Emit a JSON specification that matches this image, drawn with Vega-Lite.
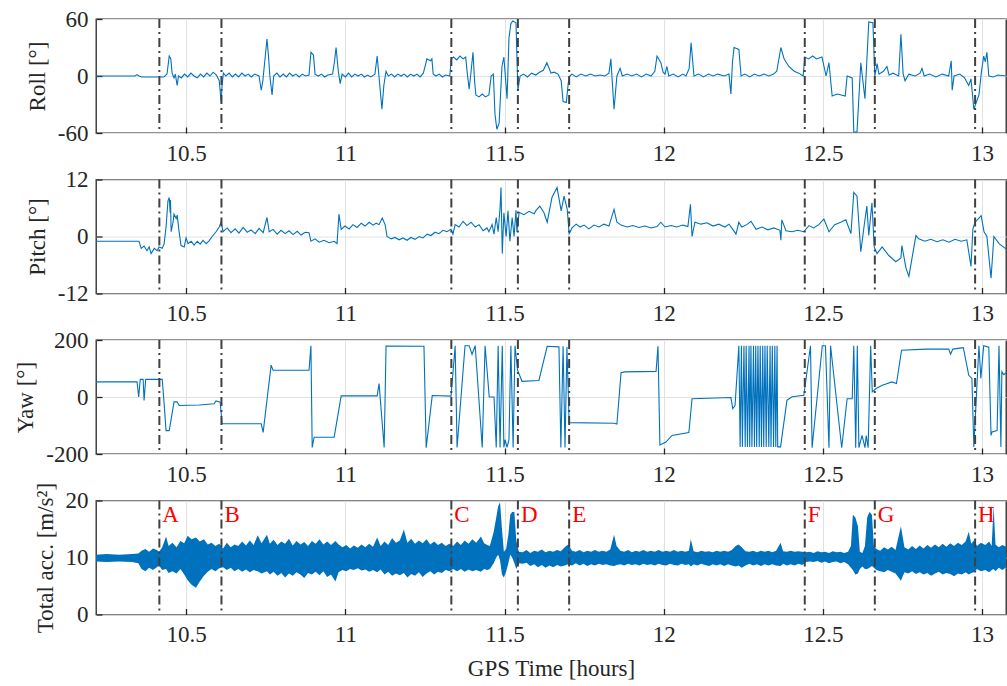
{
"$schema": "https://vega.github.io/schema/vega-lite/v6.json",
"background": "white",
"padding": {"left": 14, "top": 7, "right": 0, "bottom": 0},
"bounds": "flush",
"spacing": 46.5,
"config": {
  "font": "Liberation Serif, Times New Roman, serif",
  "view": {"stroke": "#262626", "strokeWidth": 1.3},
  "axis": {"labelFont": "Liberation Serif, Times New Roman, serif", "titleFont": "Liberation Serif, Times New Roman, serif", "labelFontSize": 23, "titleFontSize": 23, "labelColor": "#262626", "titleColor": "#262626", "titleFontWeight": "normal", "domain": false, "tickColor": "#262626", "tickWidth": 1.3, "gridColor": "#e2e2e2", "gridWidth": 1, "labelFlush": false, "labelOverlap": false},
  "axisX": {"tickSize": -6, "labelPadding": 15},
  "axisY": {"tickSize": -6, "labelPadding": 14, "titlePadding": 8}
},
"datasets": {
  "events": [
    {"t": 10.416, "label": "A"}, {"t": 10.611, "label": "B"}, {"t": 11.333, "label": "C"}, {"t": 11.542, "label": "D"},
    {"t": 11.703, "label": "E"}, {"t": 12.443, "label": "F"}, {"t": 12.663, "label": "G"}, {"t": 12.978, "label": "H"}
  ],
  "roll": [
    {"t":10.217,"v":0},{"t":10.340,"v":0},{"t":10.346,"v":1.5},{"t":10.352,"v":0},{"t":10.360,"v":-1},{"t":10.430,"v":-1},{"t":10.440,"v":2},{"t":10.447,"v":21},{"t":10.452,"v":18},{"t":10.456,"v":3},{"t":10.462,"v":-2},{"t":10.466,"v":2},{"t":10.472,"v":-10},{"t":10.476,"v":0},{"t":10.485,"v":-2},{"t":10.495,"v":2},{"t":10.505,"v":-1},{"t":10.515,"v":3},{"t":10.525,"v":0},{"t":10.535,"v":-2},{"t":10.545,"v":2},{"t":10.555,"v":-1},{"t":10.565,"v":3},{"t":10.575,"v":0},{"t":10.585,"v":4},{"t":10.595,"v":1},{"t":10.604,"v":-5},{"t":10.610,"v":-27},{"t":10.613,"v":-10},{"t":10.617,"v":3},{"t":10.625,"v":0},{"t":10.635,"v":3},{"t":10.645,"v":-1},{"t":10.655,"v":2},{"t":10.665,"v":-1},{"t":10.675,"v":3},{"t":10.685,"v":0},{"t":10.695,"v":2},{"t":10.705,"v":-1},{"t":10.715,"v":2},{"t":10.729,"v":0},{"t":10.736,"v":-15},{"t":10.741,"v":-5},{"t":10.754,"v":39},{"t":10.759,"v":20},{"t":10.763,"v":0},{"t":10.770,"v":-20},{"t":10.775,"v":0},{"t":10.785,"v":3},{"t":10.795,"v":-1},{"t":10.805,"v":2},{"t":10.815,"v":-1},{"t":10.825,"v":3},{"t":10.835,"v":0},{"t":10.845,"v":2},{"t":10.855,"v":-1},{"t":10.865,"v":2},{"t":10.875,"v":0},{"t":10.886,"v":1},{"t":10.892,"v":25},{"t":10.900,"v":22},{"t":10.905,"v":2},{"t":10.915,"v":0},{"t":10.925,"v":2},{"t":10.935,"v":-1},{"t":10.945,"v":1},{"t":10.960,"v":2},{"t":10.966,"v":15},{"t":10.971,"v":30},{"t":10.978,"v":5},{"t":10.984,"v":-8},{"t":10.990,"v":2},{"t":11.000,"v":-1},{"t":11.010,"v":3},{"t":11.020,"v":-1},{"t":11.030,"v":2},{"t":11.040,"v":0},{"t":11.050,"v":2},{"t":11.060,"v":-1},{"t":11.070,"v":1},{"t":11.080,"v":-1},{"t":11.093,"v":2},{"t":11.100,"v":21},{"t":11.107,"v":-5},{"t":11.115,"v":-35},{"t":11.121,"v":-10},{"t":11.128,"v":5},{"t":11.135,"v":0},{"t":11.145,"v":2},{"t":11.155,"v":-1},{"t":11.165,"v":2},{"t":11.175,"v":0},{"t":11.185,"v":2},{"t":11.195,"v":-1},{"t":11.205,"v":2},{"t":11.215,"v":0},{"t":11.225,"v":2},{"t":11.235,"v":-1},{"t":11.245,"v":3},{"t":11.252,"v":12},{"t":11.256,"v":18},{"t":11.268,"v":16},{"t":11.272,"v":18},{"t":11.276,"v":2},{"t":11.285,"v":0},{"t":11.295,"v":2},{"t":11.305,"v":-1},{"t":11.315,"v":1},{"t":11.328,"v":0},{"t":11.333,"v":18},{"t":11.340,"v":20},{"t":11.350,"v":17},{"t":11.360,"v":21},{"t":11.370,"v":18},{"t":11.378,"v":20},{"t":11.383,"v":3},{"t":11.389,"v":-14},{"t":11.395,"v":5},{"t":11.401,"v":25},{"t":11.406,"v":-5},{"t":11.410,"v":-20},{"t":11.420,"v":-22},{"t":11.430,"v":-19},{"t":11.440,"v":-22},{"t":11.451,"v":-20},{"t":11.458,"v":0},{"t":11.465,"v":2},{"t":11.470,"v":-40},{"t":11.476,"v":-56},{"t":11.483,"v":-50},{"t":11.492,"v":10},{"t":11.498,"v":20},{"t":11.508,"v":-24},{"t":11.514,"v":40},{"t":11.520,"v":55},{"t":11.526,"v":58},{"t":11.536,"v":56},{"t":11.542,"v":-15},{"t":11.549,"v":0},{"t":11.560,"v":2},{"t":11.572,"v":-1},{"t":11.585,"v":3},{"t":11.598,"v":1},{"t":11.610,"v":4},{"t":11.622,"v":6},{"t":11.633,"v":14},{"t":11.646,"v":3},{"t":11.656,"v":4},{"t":11.668,"v":2},{"t":11.678,"v":-5},{"t":11.684,"v":-27},{"t":11.694,"v":-28},{"t":11.700,"v":-8},{"t":11.705,"v":0},{"t":11.712,"v":2},{"t":11.725,"v":-1},{"t":11.740,"v":2},{"t":11.755,"v":0},{"t":11.770,"v":2},{"t":11.785,"v":0},{"t":11.800,"v":1},{"t":11.815,"v":0},{"t":11.828,"v":3},{"t":11.834,"v":18},{"t":11.844,"v":-35},{"t":11.853,"v":0},{"t":11.863,"v":8},{"t":11.870,"v":0},{"t":11.885,"v":2},{"t":11.900,"v":0},{"t":11.915,"v":2},{"t":11.930,"v":-1},{"t":11.945,"v":2},{"t":11.960,"v":0},{"t":11.972,"v":5},{"t":11.979,"v":21},{"t":11.991,"v":14},{"t":11.998,"v":4},{"t":12.004,"v":2},{"t":12.010,"v":10},{"t":12.016,"v":0},{"t":12.030,"v":2},{"t":12.045,"v":-1},{"t":12.060,"v":2},{"t":12.070,"v":0},{"t":12.080,"v":8},{"t":12.086,"v":35},{"t":12.095,"v":0},{"t":12.110,"v":2},{"t":12.125,"v":-1},{"t":12.140,"v":2},{"t":12.155,"v":0},{"t":12.170,"v":2},{"t":12.190,"v":0},{"t":12.205,"v":2},{"t":12.211,"v":-19},{"t":12.216,"v":15},{"t":12.221,"v":30},{"t":12.236,"v":28},{"t":12.243,"v":0},{"t":12.255,"v":2},{"t":12.270,"v":-1},{"t":12.285,"v":2},{"t":12.300,"v":0},{"t":12.315,"v":2},{"t":12.330,"v":0},{"t":12.345,"v":2},{"t":12.355,"v":5},{"t":12.368,"v":30},{"t":12.378,"v":18},{"t":12.393,"v":10},{"t":12.410,"v":5},{"t":12.424,"v":3},{"t":12.438,"v":0},{"t":12.443,"v":20},{"t":12.455,"v":18},{"t":12.468,"v":21},{"t":12.480,"v":18},{"t":12.497,"v":20},{"t":12.510,"v":0},{"t":12.519,"v":14},{"t":12.529,"v":-21},{"t":12.545,"v":-19},{"t":12.570,"v":-21},{"t":12.576,"v":0},{"t":12.592,"v":-2},{"t":12.597,"v":-59},{"t":12.607,"v":-59},{"t":12.619,"v":14},{"t":12.632,"v":-24},{"t":12.644,"v":57},{"t":12.657,"v":56},{"t":12.663,"v":0},{"t":12.666,"v":5},{"t":12.670,"v":13},{"t":12.676,"v":2},{"t":12.690,"v":5},{"t":12.701,"v":10},{"t":12.708,"v":1},{"t":12.720,"v":3},{"t":12.738,"v":0},{"t":12.745,"v":44},{"t":12.752,"v":2},{"t":12.758,"v":-5},{"t":12.770,"v":2},{"t":12.790,"v":0},{"t":12.805,"v":3},{"t":12.811,"v":8},{"t":12.818,"v":0},{"t":12.835,"v":2},{"t":12.855,"v":-1},{"t":12.875,"v":2},{"t":12.895,"v":0},{"t":12.903,"v":16},{"t":12.906,"v":-15},{"t":12.912,"v":0},{"t":12.930,"v":2},{"t":12.945,"v":-2},{"t":12.958,"v":-10},{"t":12.965,"v":-3},{"t":12.974,"v":-35},{"t":12.990,"v":-20},{"t":12.998,"v":5},{"t":13.005,"v":21},{"t":13.010,"v":15},{"t":13.015,"v":25},{"t":13.021,"v":0},{"t":13.035,"v":-1},{"t":13.050,"v":1},{"t":13.075,"v":0}
  ],
  "pitch": [
    {"t":10.217,"v":-1},{"t":10.352,"v":-1},{"t":10.359,"v":-2.5},{"t":10.368,"v":-2},{"t":10.377,"v":-3},{"t":10.384,"v":-2.2},{"t":10.390,"v":-3.6},{"t":10.400,"v":-2.5},{"t":10.409,"v":-3},{"t":10.415,"v":-2.2},{"t":10.425,"v":-2.5},{"t":10.431,"v":-1.5},{"t":10.437,"v":2},{"t":10.443,"v":7.5},{"t":10.447,"v":8.2},{"t":10.450,"v":5},{"t":10.451,"v":7.7},{"t":10.453,"v":1},{"t":10.459,"v":3},{"t":10.462,"v":4.7},{"t":10.469,"v":3.8},{"t":10.472,"v":4.5},{"t":10.478,"v":1},{"t":10.484,"v":-1.9},{"t":10.494,"v":-2.2},{"t":10.500,"v":-0.3},{"t":10.506,"v":-1.5},{"t":10.516,"v":-1.0},{"t":10.525,"v":-1.8},{"t":10.535,"v":-1.0},{"t":10.544,"v":-1.6},{"t":10.553,"v":-0.8},{"t":10.563,"v":-1.5},{"t":10.572,"v":-0.9},{"t":10.582,"v":0},{"t":10.594,"v":1},{"t":10.604,"v":2},{"t":10.610,"v":3},{"t":10.616,"v":1},{"t":10.629,"v":1.8},{"t":10.641,"v":0.8},{"t":10.654,"v":1.6},{"t":10.666,"v":0.7},{"t":10.679,"v":1.9},{"t":10.692,"v":0.9},{"t":10.704,"v":1.4},{"t":10.717,"v":0.6},{"t":10.729,"v":1.7},{"t":10.742,"v":0.8},{"t":10.754,"v":4},{"t":10.761,"v":1},{"t":10.773,"v":1.5},{"t":10.786,"v":0.5},{"t":10.798,"v":1.3},{"t":10.811,"v":0.6},{"t":10.823,"v":1.2},{"t":10.836,"v":0.4},{"t":10.849,"v":1.1},{"t":10.861,"v":0.3},{"t":10.874,"v":0.9},{"t":10.886,"v":0.8},{"t":10.892,"v":-1},{"t":10.905,"v":-0.5},{"t":10.918,"v":-1.2},{"t":10.933,"v":-0.8},{"t":10.949,"v":-1.3},{"t":10.965,"v":-1.0},{"t":10.974,"v":-1.5},{"t":10.980,"v":4.7},{"t":10.987,"v":1.5},{"t":10.999,"v":2.2},{"t":11.012,"v":1.6},{"t":11.024,"v":2.5},{"t":11.037,"v":1.9},{"t":11.050,"v":2.8},{"t":11.062,"v":2.2},{"t":11.075,"v":3.0},{"t":11.087,"v":2.4},{"t":11.097,"v":2.8},{"t":11.106,"v":2.5},{"t":11.116,"v":3.9},{"t":11.125,"v":2.5},{"t":11.131,"v":0},{"t":11.144,"v":-0.5},{"t":11.156,"v":-0.2},{"t":11.169,"v":-0.7},{"t":11.181,"v":-0.3},{"t":11.194,"v":-0.8},{"t":11.206,"v":-0.2},{"t":11.219,"v":-0.6},{"t":11.232,"v":0},{"t":11.244,"v":-0.3},{"t":11.257,"v":0.5},{"t":11.269,"v":0.2},{"t":11.282,"v":0.9},{"t":11.294,"v":0.6},{"t":11.307,"v":1.3},{"t":11.319,"v":1.0},{"t":11.332,"v":1.5},{"t":11.338,"v":0.5},{"t":11.345,"v":2.5},{"t":11.357,"v":2.0},{"t":11.370,"v":3.2},{"t":11.382,"v":2.3},{"t":11.395,"v":3.0},{"t":11.408,"v":2.0},{"t":11.420,"v":2.5},{"t":11.433,"v":1.2},{"t":11.445,"v":1.8},{"t":11.451,"v":1.0},{"t":11.461,"v":2.5},{"t":11.467,"v":0.5},{"t":11.474,"v":4},{"t":11.480,"v":1},{"t":11.486,"v":6},{"t":11.489,"v":10.3},{"t":11.493,"v":-3.6},{"t":11.498,"v":5},{"t":11.505,"v":0},{"t":11.511,"v":5.4},{"t":11.517,"v":-1},{"t":11.524,"v":4},{"t":11.530,"v":0},{"t":11.536,"v":5.5},{"t":11.539,"v":1},{"t":11.546,"v":5.1},{"t":11.561,"v":4.6},{"t":11.577,"v":5.3},{"t":11.593,"v":4.8},{"t":11.599,"v":5.5},{"t":11.611,"v":6.4},{"t":11.624,"v":5.0},{"t":11.634,"v":3.0},{"t":11.649,"v":8.2},{"t":11.665,"v":10.3},{"t":11.678,"v":5.4},{"t":11.687,"v":8.5},{"t":11.697,"v":5.7},{"t":11.703,"v":0.6},{"t":11.712,"v":1.8},{"t":11.725,"v":2.6},{"t":11.737,"v":2.0},{"t":11.750,"v":2.4},{"t":11.765,"v":1.6},{"t":11.781,"v":2.4},{"t":11.797,"v":2.0},{"t":11.812,"v":2.6},{"t":11.828,"v":2.2},{"t":11.844,"v":5.7},{"t":11.853,"v":3.0},{"t":11.866,"v":2.4},{"t":11.885,"v":2.0},{"t":11.903,"v":2.3},{"t":11.922,"v":1.9},{"t":11.941,"v":2.2},{"t":11.960,"v":1.8},{"t":11.979,"v":2.1},{"t":11.991,"v":3.0},{"t":12.004,"v":2.0},{"t":12.023,"v":2.3},{"t":12.041,"v":2.0},{"t":12.060,"v":2.4},{"t":12.076,"v":2.1},{"t":12.084,"v":6.8},{"t":12.089,"v":0},{"t":12.098,"v":3},{"t":12.117,"v":2.6},{"t":12.136,"v":2.9},{"t":12.155,"v":2.2},{"t":12.173,"v":2.6},{"t":12.192,"v":2.0},{"t":12.205,"v":2.6},{"t":12.217,"v":1.5},{"t":12.227,"v":0.5},{"t":12.236,"v":3.0},{"t":12.245,"v":2.0},{"t":12.261,"v":2.5},{"t":12.274,"v":3.2},{"t":12.290,"v":1.5},{"t":12.309,"v":2.0},{"t":12.327,"v":1.4},{"t":12.346,"v":1.8},{"t":12.365,"v":1.3},{"t":12.368,"v":-0.8},{"t":12.371,"v":3.5},{"t":12.384,"v":1.2},{"t":12.403,"v":1.0},{"t":12.421,"v":1.3},{"t":12.440,"v":1.0},{"t":12.456,"v":2.3},{"t":12.471,"v":1.8},{"t":12.487,"v":2.5},{"t":12.503,"v":3.7},{"t":12.519,"v":1.0},{"t":12.537,"v":2.5},{"t":12.556,"v":3.0},{"t":12.572,"v":3.5},{"t":12.588,"v":0.6},{"t":12.597,"v":9.3},{"t":12.607,"v":8.5},{"t":12.619,"v":-3.2},{"t":12.629,"v":2},{"t":12.638,"v":6.4},{"t":12.644,"v":0.2},{"t":12.654,"v":7.1},{"t":12.661,"v":-2.2},{"t":12.670,"v":-3.6},{"t":12.686,"v":-2.2},{"t":12.707,"v":-4.0},{"t":12.729,"v":-5.3},{"t":12.745,"v":-4.5},{"t":12.748,"v":-1.9},{"t":12.761,"v":-6.7},{"t":12.770,"v":-8.4},{"t":12.780,"v":-4.5},{"t":12.792,"v":0.2},{"t":12.801,"v":-0.5},{"t":12.820,"v":-1.0},{"t":12.839,"v":-0.6},{"t":12.858,"v":-1.1},{"t":12.877,"v":-0.7},{"t":12.896,"v":-1.2},{"t":12.915,"v":-0.6},{"t":12.934,"v":-1.0},{"t":12.952,"v":-0.7},{"t":12.965,"v":-6.3},{"t":12.971,"v":1.6},{"t":12.978,"v":3},{"t":12.997,"v":4.4},{"t":13.006,"v":1},{"t":13.015,"v":0},{"t":13.028,"v":-8.8},{"t":13.037,"v":0},{"t":13.053,"v":-1.5},{"t":13.075,"v":-2.6}
  ],
  "yaw": [
    {"t":10.217,"v":53},{"t":10.346,"v":53},{"t":10.351,"v":0},{"t":10.356,"v":62},{"t":10.365,"v":62},{"t":10.368,"v":-12},{"t":10.373,"v":62},{"t":10.425,"v":62},{"t":10.431,"v":-24},{"t":10.437,"v":-118},{"t":10.447,"v":-118},{"t":10.462,"v":-17},{"t":10.472,"v":-17},{"t":10.478,"v":-30},{"t":10.541,"v":-28},{"t":10.588,"v":-24},{"t":10.594,"v":-14},{"t":10.607,"v":-18},{"t":10.613,"v":-94},{"t":10.736,"v":-94},{"t":10.742,"v":-124},{"t":10.767,"v":112},{"t":10.773,"v":94},{"t":10.886,"v":94},{"t":10.892,"v":180},{"t":10.896,"v":-177},{"t":10.902,"v":-141},{"t":10.965,"v":-141},{"t":10.987,"v":4},{"t":11.100,"v":4},{"t":11.106,"v":47},{"t":11.122,"v":-177},{"t":11.128,"v":179},{"t":11.247,"v":178},{"t":11.254,"v":-178},{"t":11.273,"v":5},{"t":11.332,"v":3},{"t":11.345,"v":180},{"t":11.351,"v":-177},{"t":11.376,"v":180},{"t":11.389,"v":180},{"t":11.398,"v":150},{"t":11.408,"v":180},{"t":11.430,"v":-177},{"t":11.439,"v":180},{"t":11.452,"v":0},{"t":11.467,"v":0},{"t":11.474,"v":-177},{"t":11.480,"v":180},{"t":11.486,"v":-177},{"t":11.493,"v":180},{"t":11.498,"v":-177},{"t":11.502,"v":-150},{"t":11.508,"v":-177},{"t":11.514,"v":-150},{"t":11.520,"v":180},{"t":11.527,"v":-177},{"t":11.533,"v":180},{"t":11.541,"v":94},{"t":11.555,"v":55},{"t":11.608,"v":58},{"t":11.634,"v":178},{"t":11.671,"v":176},{"t":11.677,"v":-177},{"t":11.684,"v":178},{"t":11.690,"v":-177},{"t":11.696,"v":175},{"t":11.703,"v":-90},{"t":11.844,"v":-92},{"t":11.853,"v":-95},{"t":11.866,"v":85},{"t":11.878,"v":88},{"t":11.976,"v":90},{"t":11.982,"v":178},{"t":11.988,"v":-168},{"t":12.007,"v":-158},{"t":12.026,"v":-135},{"t":12.079,"v":-125},{"t":12.089,"v":-6},{"t":12.211,"v":-2},{"t":12.217,"v":-41},{"t":12.224,"v":-30},{"t":12.236,"v":180},{"t":12.240,"v":-175},{"t":12.244,"v":180},{"t":12.247,"v":-175},{"t":12.252,"v":180},{"t":12.256,"v":-175},{"t":12.259,"v":180},{"t":12.263,"v":-175},{"t":12.268,"v":180},{"t":12.270,"v":-175},{"t":12.274,"v":180},{"t":12.277,"v":-175},{"t":12.282,"v":180},{"t":12.285,"v":-175},{"t":12.289,"v":180},{"t":12.292,"v":-175},{"t":12.296,"v":180},{"t":12.300,"v":-175},{"t":12.303,"v":180},{"t":12.307,"v":-175},{"t":12.311,"v":180},{"t":12.314,"v":-175},{"t":12.318,"v":180},{"t":12.322,"v":-175},{"t":12.325,"v":180},{"t":12.330,"v":-175},{"t":12.334,"v":180},{"t":12.337,"v":-175},{"t":12.341,"v":180},{"t":12.345,"v":-175},{"t":12.349,"v":180},{"t":12.352,"v":-175},{"t":12.356,"v":180},{"t":12.358,"v":-175},{"t":12.367,"v":-175},{"t":12.387,"v":-12},{"t":12.403,"v":1},{"t":12.440,"v":6},{"t":12.461,"v":180},{"t":12.466,"v":-178},{"t":12.498,"v":180},{"t":12.508,"v":180},{"t":12.519,"v":-178},{"t":12.524,"v":180},{"t":12.559,"v":-178},{"t":12.576,"v":-6},{"t":12.592,"v":-6},{"t":12.597,"v":180},{"t":12.603,"v":-178},{"t":12.608,"v":180},{"t":12.613,"v":-178},{"t":12.623,"v":-135},{"t":12.632,"v":-178},{"t":12.636,"v":-135},{"t":12.642,"v":-178},{"t":12.650,"v":180},{"t":12.655,"v":18},{"t":12.666,"v":29},{"t":12.686,"v":41},{"t":12.696,"v":45},{"t":12.716,"v":53},{"t":12.731,"v":47},{"t":12.747,"v":164},{"t":12.823,"v":168},{"t":12.895,"v":168},{"t":12.901,"v":150},{"t":12.908,"v":168},{"t":12.941,"v":173},{"t":12.958,"v":76},{"t":12.968,"v":65},{"t":12.974,"v":-175},{"t":12.990,"v":180},{"t":12.996,"v":65},{"t":13.005,"v":180},{"t":13.021,"v":175},{"t":13.028,"v":-135},{"t":13.031,"v":-123},{"t":13.047,"v":-118},{"t":13.053,"v":180},{"t":13.059,"v":-175},{"t":13.062,"v":89},{"t":13.068,"v":78},{"t":13.075,"v":85}
  ],
  "acc": [
    {"t":10.217,"hi":10.5,"lo":9.3},{"t":10.250,"hi":10.6,"lo":9.2},{"t":10.290,"hi":10.5,"lo":9.3},{"t":10.330,"hi":10.6,"lo":9.2},{"t":10.350,"hi":10.7,"lo":9.0},{"t":10.360,"hi":11.2,"lo":8.0},{"t":10.372,"hi":11.5,"lo":7.6},{"t":10.384,"hi":11.0,"lo":8.2},{"t":10.396,"hi":11.6,"lo":7.8},{"t":10.408,"hi":11.3,"lo":8.3},{"t":10.415,"hi":11.0,"lo":8.6},{"t":10.425,"hi":11.8,"lo":7.8},{"t":10.437,"hi":13.7,"lo":8.0},{"t":10.445,"hi":12.0,"lo":7.3},{"t":10.457,"hi":12.6,"lo":7.6},{"t":10.470,"hi":11.8,"lo":7.2},{"t":10.482,"hi":12.9,"lo":8.0},{"t":10.494,"hi":12.5,"lo":7.0},{"t":10.505,"hi":13.8,"lo":6.0},{"t":10.517,"hi":13.2,"lo":5.2},{"t":10.531,"hi":13.5,"lo":4.7},{"t":10.543,"hi":12.8,"lo":5.8},{"t":10.556,"hi":13.2,"lo":6.8},{"t":10.568,"hi":12.3,"lo":7.5},{"t":10.580,"hi":12.6,"lo":8.0},{"t":10.592,"hi":12.0,"lo":7.6},{"t":10.604,"hi":12.4,"lo":8.1},{"t":10.616,"hi":11.6,"lo":8.3},{"t":10.628,"hi":12.6,"lo":7.8},{"t":10.640,"hi":11.8,"lo":8.2},{"t":10.652,"hi":12.3,"lo":7.6},{"t":10.664,"hi":12.0,"lo":8.0},{"t":10.676,"hi":12.8,"lo":7.5},{"t":10.688,"hi":12.1,"lo":7.9},{"t":10.700,"hi":13.0,"lo":7.4},{"t":10.712,"hi":12.2,"lo":7.8},{"t":10.725,"hi":13.9,"lo":7.6},{"t":10.737,"hi":12.5,"lo":7.2},{"t":10.754,"hi":14.0,"lo":7.6},{"t":10.763,"hi":12.4,"lo":7.0},{"t":10.775,"hi":13.1,"lo":7.5},{"t":10.787,"hi":12.2,"lo":6.8},{"t":10.799,"hi":12.8,"lo":7.3},{"t":10.811,"hi":12.4,"lo":6.5},{"t":10.823,"hi":13.3,"lo":7.2},{"t":10.835,"hi":12.1,"lo":6.8},{"t":10.847,"hi":12.9,"lo":7.4},{"t":10.859,"hi":12.3,"lo":7.0},{"t":10.871,"hi":12.7,"lo":6.4},{"t":10.883,"hi":12.0,"lo":7.3},{"t":10.895,"hi":12.9,"lo":7.0},{"t":10.907,"hi":12.4,"lo":7.5},{"t":10.919,"hi":13.2,"lo":6.9},{"t":10.931,"hi":12.3,"lo":7.6},{"t":10.943,"hi":12.8,"lo":6.6},{"t":10.955,"hi":12.2,"lo":7.0},{"t":10.969,"hi":12.9,"lo":5.8},{"t":10.979,"hi":12.3,"lo":7.4},{"t":10.991,"hi":11.8,"lo":7.8},{"t":11.003,"hi":12.2,"lo":7.6},{"t":11.015,"hi":11.6,"lo":8.0},{"t":11.027,"hi":12.1,"lo":7.8},{"t":11.039,"hi":11.7,"lo":8.1},{"t":11.051,"hi":12.3,"lo":7.7},{"t":11.063,"hi":11.8,"lo":7.9},{"t":11.075,"hi":12.4,"lo":7.5},{"t":11.087,"hi":11.9,"lo":7.8},{"t":11.100,"hi":13.5,"lo":7.4},{"t":11.111,"hi":12.0,"lo":7.9},{"t":11.123,"hi":12.8,"lo":7.0},{"t":11.135,"hi":12.2,"lo":7.5},{"t":11.147,"hi":13.4,"lo":6.8},{"t":11.159,"hi":12.6,"lo":7.2},{"t":11.171,"hi":13.0,"lo":6.9},{"t":11.184,"hi":14.9,"lo":7.3},{"t":11.195,"hi":12.6,"lo":6.5},{"t":11.207,"hi":13.3,"lo":7.1},{"t":11.219,"hi":12.4,"lo":6.8},{"t":11.231,"hi":13.0,"lo":7.4},{"t":11.243,"hi":12.5,"lo":6.6},{"t":11.255,"hi":13.2,"lo":7.2},{"t":11.267,"hi":12.3,"lo":7.6},{"t":11.279,"hi":12.8,"lo":7.0},{"t":11.291,"hi":12.2,"lo":7.5},{"t":11.303,"hi":12.6,"lo":7.3},{"t":11.315,"hi":12.0,"lo":7.8},{"t":11.327,"hi":12.4,"lo":7.6},{"t":11.339,"hi":12.0,"lo":8.0},{"t":11.351,"hi":12.8,"lo":7.6},{"t":11.363,"hi":12.2,"lo":8.0},{"t":11.375,"hi":13.0,"lo":7.5},{"t":11.387,"hi":12.4,"lo":7.9},{"t":11.399,"hi":13.2,"lo":7.6},{"t":11.411,"hi":12.6,"lo":7.8},{"t":11.426,"hi":13.7,"lo":7.5},{"t":11.436,"hi":12.5,"lo":8.0},{"t":11.446,"hi":12.2,"lo":7.8},{"t":11.454,"hi":12.0,"lo":8.0},{"t":11.466,"hi":14.5,"lo":9.0},{"t":11.474,"hi":17.0,"lo":10.0},{"t":11.480,"hi":19.0,"lo":10.5},{"t":11.486,"hi":19.7,"lo":9.5},{"t":11.492,"hi":15.0,"lo":7.0},{"t":11.498,"hi":11.0,"lo":6.5},{"t":11.505,"hi":11.5,"lo":7.5},{"t":11.512,"hi":14.0,"lo":9.0},{"t":11.518,"hi":17.5,"lo":10.5},{"t":11.524,"hi":18.0,"lo":10.0},{"t":11.531,"hi":18.0,"lo":9.0},{"t":11.537,"hi":13.0,"lo":8.0},{"t":11.545,"hi":11.0,"lo":9.0},{"t":11.557,"hi":10.9,"lo":8.9},{"t":11.569,"hi":11.3,"lo":9.1},{"t":11.581,"hi":10.8,"lo":8.5},{"t":11.593,"hi":11.2,"lo":8.8},{"t":11.605,"hi":11.0,"lo":8.3},{"t":11.617,"hi":11.4,"lo":8.7},{"t":11.629,"hi":10.9,"lo":8.2},{"t":11.641,"hi":11.2,"lo":8.6},{"t":11.653,"hi":11.0,"lo":8.3},{"t":11.665,"hi":11.3,"lo":8.7},{"t":11.677,"hi":11.1,"lo":8.4},{"t":11.689,"hi":11.8,"lo":8.6},{"t":11.700,"hi":12.3,"lo":8.8},{"t":11.712,"hi":11.2,"lo":8.6},{"t":11.724,"hi":11.0,"lo":9.0},{"t":11.736,"hi":11.3,"lo":8.6},{"t":11.748,"hi":10.9,"lo":8.9},{"t":11.760,"hi":11.2,"lo":8.5},{"t":11.772,"hi":11.0,"lo":8.8},{"t":11.784,"hi":11.3,"lo":8.6},{"t":11.796,"hi":11.0,"lo":8.9},{"t":11.808,"hi":11.2,"lo":8.7},{"t":11.820,"hi":11.0,"lo":8.8},{"t":11.832,"hi":11.4,"lo":8.6},{"t":11.844,"hi":14.0,"lo":8.5},{"t":11.852,"hi":12.0,"lo":8.7},{"t":11.864,"hi":11.2,"lo":8.8},{"t":11.876,"hi":11.0,"lo":8.6},{"t":11.888,"hi":11.3,"lo":8.9},{"t":11.900,"hi":10.9,"lo":8.7},{"t":11.912,"hi":11.2,"lo":8.8},{"t":11.924,"hi":11.0,"lo":8.6},{"t":11.936,"hi":11.3,"lo":8.9},{"t":11.948,"hi":11.0,"lo":8.7},{"t":11.960,"hi":11.2,"lo":8.8},{"t":11.972,"hi":11.0,"lo":8.6},{"t":11.984,"hi":11.3,"lo":8.9},{"t":11.996,"hi":11.0,"lo":8.7},{"t":12.008,"hi":11.2,"lo":8.6},{"t":12.020,"hi":11.0,"lo":8.9},{"t":12.032,"hi":11.3,"lo":8.7},{"t":12.044,"hi":11.0,"lo":8.6},{"t":12.056,"hi":11.2,"lo":8.9},{"t":12.068,"hi":11.0,"lo":8.7},{"t":12.079,"hi":11.2,"lo":8.8},{"t":12.085,"hi":13.2,"lo":8.4},{"t":12.094,"hi":11.1,"lo":8.8},{"t":12.106,"hi":10.9,"lo":8.6},{"t":12.118,"hi":11.2,"lo":8.9},{"t":12.130,"hi":11.0,"lo":8.7},{"t":12.142,"hi":11.1,"lo":8.5},{"t":12.154,"hi":10.9,"lo":8.8},{"t":12.166,"hi":11.2,"lo":8.6},{"t":12.178,"hi":11.0,"lo":8.8},{"t":12.190,"hi":11.2,"lo":8.5},{"t":12.202,"hi":11.0,"lo":8.8},{"t":12.214,"hi":11.3,"lo":8.6},{"t":12.226,"hi":12.0,"lo":8.4},{"t":12.235,"hi":12.3,"lo":8.6},{"t":12.245,"hi":11.8,"lo":8.2},{"t":12.257,"hi":11.1,"lo":8.6},{"t":12.269,"hi":11.0,"lo":8.9},{"t":12.281,"hi":11.2,"lo":8.6},{"t":12.293,"hi":10.9,"lo":8.8},{"t":12.305,"hi":11.2,"lo":8.5},{"t":12.317,"hi":11.0,"lo":8.8},{"t":12.329,"hi":11.2,"lo":8.6},{"t":12.341,"hi":10.9,"lo":8.8},{"t":12.353,"hi":11.2,"lo":8.6},{"t":12.367,"hi":12.6,"lo":8.5},{"t":12.375,"hi":11.1,"lo":8.9},{"t":12.387,"hi":11.0,"lo":8.6},{"t":12.399,"hi":11.2,"lo":8.8},{"t":12.411,"hi":11.0,"lo":8.6},{"t":12.423,"hi":11.1,"lo":8.9},{"t":12.435,"hi":11.0,"lo":8.7},{"t":12.447,"hi":10.9,"lo":9.2},{"t":12.459,"hi":11.0,"lo":9.3},{"t":12.471,"hi":10.8,"lo":9.2},{"t":12.483,"hi":11.1,"lo":9.4},{"t":12.495,"hi":10.9,"lo":9.1},{"t":12.507,"hi":11.0,"lo":9.3},{"t":12.519,"hi":10.8,"lo":9.0},{"t":12.531,"hi":11.1,"lo":9.2},{"t":12.543,"hi":10.9,"lo":9.3},{"t":12.555,"hi":11.0,"lo":9.0},{"t":12.567,"hi":10.8,"lo":9.2},{"t":12.579,"hi":11.0,"lo":8.8},{"t":12.588,"hi":12.0,"lo":8.2},{"t":12.594,"hi":17.5,"lo":7.8},{"t":12.602,"hi":17.0,"lo":7.0},{"t":12.610,"hi":15.5,"lo":7.2},{"t":12.616,"hi":11.0,"lo":8.0},{"t":12.624,"hi":10.8,"lo":8.4},{"t":12.632,"hi":12.0,"lo":8.0},{"t":12.639,"hi":17.0,"lo":8.0},{"t":12.646,"hi":18.0,"lo":8.2},{"t":12.654,"hi":17.5,"lo":8.5},{"t":12.660,"hi":12.0,"lo":8.2},{"t":12.668,"hi":11.5,"lo":7.8},{"t":12.680,"hi":11.2,"lo":7.6},{"t":12.692,"hi":11.8,"lo":7.4},{"t":12.704,"hi":11.4,"lo":7.8},{"t":12.716,"hi":11.9,"lo":7.5},{"t":12.728,"hi":11.3,"lo":7.2},{"t":12.745,"hi":15.5,"lo":5.9},{"t":12.756,"hi":11.8,"lo":7.4},{"t":12.768,"hi":11.4,"lo":7.2},{"t":12.780,"hi":12.0,"lo":7.6},{"t":12.792,"hi":11.5,"lo":7.1},{"t":12.804,"hi":12.1,"lo":7.4},{"t":12.816,"hi":11.6,"lo":7.0},{"t":12.828,"hi":12.2,"lo":7.3},{"t":12.840,"hi":11.7,"lo":6.8},{"t":12.852,"hi":12.3,"lo":7.2},{"t":12.864,"hi":11.8,"lo":7.5},{"t":12.876,"hi":12.4,"lo":7.0},{"t":12.888,"hi":11.9,"lo":7.3},{"t":12.900,"hi":12.5,"lo":7.1},{"t":12.912,"hi":12.0,"lo":6.7},{"t":12.924,"hi":12.6,"lo":7.2},{"t":12.936,"hi":12.2,"lo":7.0},{"t":12.948,"hi":12.8,"lo":7.4},{"t":12.958,"hi":14.5,"lo":7.0},{"t":12.966,"hi":12.4,"lo":7.3},{"t":12.974,"hi":13.0,"lo":7.4},{"t":12.984,"hi":12.0,"lo":8.0},{"t":12.996,"hi":12.6,"lo":7.6},{"t":13.010,"hi":12.2,"lo":7.8},{"t":13.022,"hi":12.8,"lo":7.4},{"t":13.030,"hi":12.0,"lo":7.8},{"t":13.036,"hi":19.0,"lo":8.0},{"t":13.042,"hi":12.3,"lo":7.6},{"t":13.052,"hi":11.8,"lo":8.2},{"t":13.064,"hi":12.2,"lo":7.8},{"t":13.075,"hi":11.9,"lo":8.3}
  ]
},
"vconcat": [
  {
    "width": 910, "height": 114,
    "layer": [
      {"data": {"name": "roll"}, "mark": {"type": "line", "color": "#0072BD", "strokeWidth": 1.1, "clip": true},
       "encoding": {
         "x": {"field": "t", "type": "quantitative", "scale": {"domain": [10.217, 13.075], "nice": false, "zero": false}, "axis": {"title": null, "values": [10.5, 11, 11.5, 12, 12.5, 13], "format": "~g"}},
         "y": {"field": "v", "type": "quantitative", "scale": {"domain": [-60, 60], "nice": false}, "axis": {"values": [-60, 0, 60], "title": "Roll [°]", "labelExpr": "'' + datum.value"}}
       }},
      {"data": {"name": "events"}, "mark": {"type": "rule", "color": "#404040", "strokeWidth": 2, "strokeDash": [9, 4, 2, 4]},
       "encoding": {"x": {"field": "t", "type": "quantitative"}}}
    ]
  },
  {
    "width": 910, "height": 114,
    "layer": [
      {"data": {"name": "pitch"}, "mark": {"type": "line", "color": "#0072BD", "strokeWidth": 1.1, "clip": true},
       "encoding": {
         "x": {"field": "t", "type": "quantitative", "scale": {"domain": [10.217, 13.075], "nice": false, "zero": false}, "axis": {"title": null, "values": [10.5, 11, 11.5, 12, 12.5, 13], "format": "~g"}},
         "y": {"field": "v", "type": "quantitative", "scale": {"domain": [-12, 12], "nice": false}, "axis": {"values": [-12, 0, 12], "title": "Pitch [°]", "labelExpr": "'' + datum.value"}}
       }},
      {"data": {"name": "events"}, "mark": {"type": "rule", "color": "#404040", "strokeWidth": 2, "strokeDash": [9, 4, 2, 4]},
       "encoding": {"x": {"field": "t", "type": "quantitative"}}}
    ]
  },
  {
    "width": 910, "height": 114,
    "layer": [
      {"data": {"name": "yaw"}, "mark": {"type": "line", "color": "#0072BD", "strokeWidth": 1.1, "clip": true},
       "encoding": {
         "x": {"field": "t", "type": "quantitative", "scale": {"domain": [10.217, 13.075], "nice": false, "zero": false}, "axis": {"title": null, "values": [10.5, 11, 11.5, 12, 12.5, 13], "format": "~g"}},
         "y": {"field": "v", "type": "quantitative", "scale": {"domain": [-200, 200], "nice": false}, "axis": {"values": [-200, 0, 200], "title": "Yaw [°]", "labelExpr": "'' + datum.value"}}
       }},
      {"data": {"name": "events"}, "mark": {"type": "rule", "color": "#404040", "strokeWidth": 2, "strokeDash": [9, 4, 2, 4]},
       "encoding": {"x": {"field": "t", "type": "quantitative"}}}
    ]
  },
  {
    "width": 910, "height": 114,
    "layer": [
      {"data": {"name": "acc"}, "mark": {"type": "area", "color": "#0072BD", "opacity": 1, "clip": true},
       "encoding": {
         "x": {"field": "t", "type": "quantitative", "scale": {"domain": [10.217, 13.075], "nice": false, "zero": false}, "axis": {"title": "GPS Time [hours]", "titlePadding": 11, "values": [10.5, 11, 11.5, 12, 12.5, 13], "format": "~g"}},
         "y": {"field": "hi", "type": "quantitative", "scale": {"domain": [0, 20], "nice": false}, "axis": {"values": [0, 10, 20], "title": "Total acc. [m/s²]", "labelExpr": "'' + datum.value"}},
         "y2": {"field": "lo"}
       }},
      {"data": {"name": "events"}, "mark": {"type": "rule", "color": "#404040", "strokeWidth": 2, "strokeDash": [9, 4, 2, 4]},
       "encoding": {"x": {"field": "t", "type": "quantitative"}}},
      {"data": {"name": "events"}, "mark": {"type": "text", "color": "#ff0000", "font": "Liberation Serif, Times New Roman, serif", "fontSize": 23, "align": "left", "baseline": "alphabetic", "dx": 3},
       "encoding": {"x": {"field": "t", "type": "quantitative"}, "y": {"datum": 16.3}, "text": {"field": "label"}}}
    ]
  }
]
}
